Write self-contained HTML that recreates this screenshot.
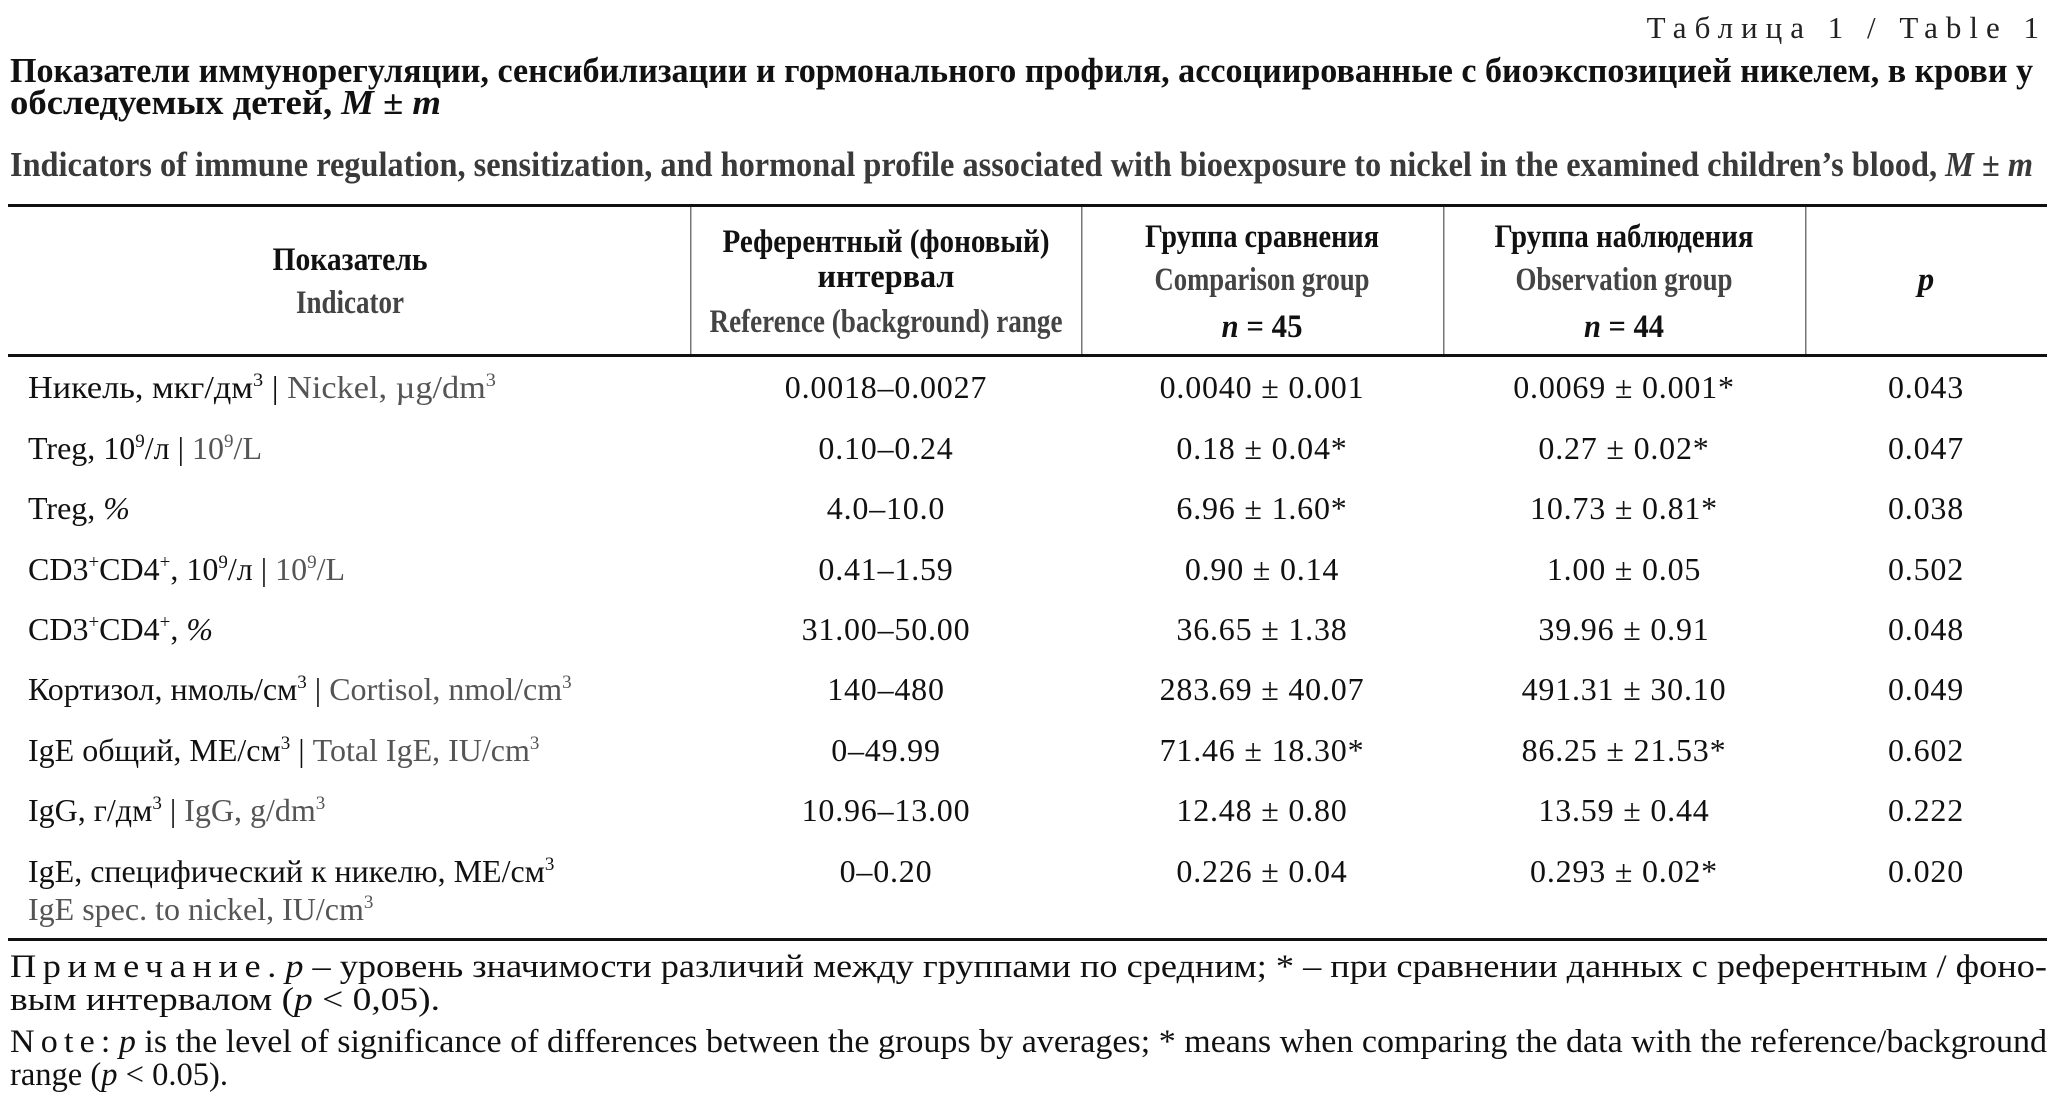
<!DOCTYPE html>
<html><head><meta charset="utf-8"><style>
html,body{margin:0;padding:0;background:#fff;}
svg{display:block;}
text{font-family:"Liberation Serif","Noto Serif CJK SC",serif;}
.b{font-weight:bold;}
.h{font-size:33px;font-weight:bold;text-anchor:middle;fill:#111;}
.hg{font-size:33px;font-weight:bold;text-anchor:middle;fill:#444;}
.d{font-size:32px;text-anchor:middle;fill:#111;letter-spacing:0.8px;}
.l{font-size:32px;fill:#111;}
.n{font-size:33px;fill:#111;}
</style></head><body>
<svg width="2060" height="1111" viewBox="0 0 2060 1111" xmlns="http://www.w3.org/2000/svg">
<text x="2047" y="38" font-size="31" text-anchor="end" letter-spacing="8" fill="#222">Таблица 1 / Table 1</text>
<text x="10" y="82" font-size="35" class="b" fill="#111" textLength="2023" lengthAdjust="spacingAndGlyphs">Показатели иммунорегуляции, сенсибилизации и гормонального профиля, ассоциированные с биоэкспозицией никелем, в крови у</text>
<text x="10" y="114" font-size="35" class="b" fill="#111" textLength="431" lengthAdjust="spacingAndGlyphs">обследуемых детей, <tspan font-style="italic">M</tspan> ± <tspan font-style="italic">m</tspan></text>
<text x="10" y="176" font-size="35" class="b" fill="#3a3a3a" textLength="2023" lengthAdjust="spacingAndGlyphs">Indicators of immune regulation, sensitization, and hormonal profile associated with bioexposure to nickel in the examined children’s blood, <tspan font-style="italic">M</tspan> ± <tspan font-style="italic">m</tspan></text>
<rect x="8" y="204" width="2039" height="3" fill="#111"/>
<rect x="8" y="354" width="2039" height="3" fill="#111"/>
<rect x="8" y="938" width="2039" height="3" fill="#111"/>
<g fill="#777"><rect x="690" y="207" width="1.5" height="147"/><rect x="1081" y="207" width="1.5" height="147"/><rect x="1443" y="207" width="1.5" height="147"/><rect x="1805" y="207" width="1.5" height="147"/></g>
<text class="h" x="350" y="270" textLength="155" lengthAdjust="spacingAndGlyphs">Показатель</text>
<text class="hg" x="350" y="313" textLength="108" lengthAdjust="spacingAndGlyphs">Indicator</text>
<text class="h" x="886" y="252" textLength="327" lengthAdjust="spacingAndGlyphs">Референтный (фоновый)</text>
<text class="h" x="886" y="287" textLength="137" lengthAdjust="spacingAndGlyphs">интервал</text>
<text class="hg" x="886" y="332" textLength="353" lengthAdjust="spacingAndGlyphs">Reference (background) range</text>
<text class="h" x="1262" y="247" textLength="234" lengthAdjust="spacingAndGlyphs">Группа сравнения</text>
<text class="hg" x="1262" y="290" textLength="215" lengthAdjust="spacingAndGlyphs">Comparison group</text>
<text class="h" x="1262" y="337" textLength="81" lengthAdjust="spacingAndGlyphs"><tspan font-style="italic">n</tspan> = 45</text>
<text class="h" x="1624" y="247" textLength="259" lengthAdjust="spacingAndGlyphs">Группа наблюдения</text>
<text class="hg" x="1624" y="290" textLength="217" lengthAdjust="spacingAndGlyphs">Observation group</text>
<text class="h" x="1624" y="337" textLength="80" lengthAdjust="spacingAndGlyphs"><tspan font-style="italic">n</tspan> = 44</text>
<text class="h" x="1926" y="290" font-style="italic">p</text>

<g>
<text class="l" x="28" y="398" textLength="468" lengthAdjust="spacingAndGlyphs">Никель, мкг/дм<tspan font-size="19" dy="-12">3</tspan><tspan dy="12"> | </tspan><tspan fill="#555">Nickel, µg/dm</tspan><tspan fill="#555" font-size="19" dy="-12">3</tspan></text>
<text class="l" x="28" y="459">Treg, 10<tspan font-size="19" dy="-12">9</tspan><tspan dy="12">/л | </tspan><tspan fill="#555">10</tspan><tspan fill="#555" font-size="19" dy="-12">9</tspan><tspan fill="#555" dy="12">/L</tspan></text>
<text class="l" x="28" y="519">Treg, <tspan font-style="italic">%</tspan></text>
<text class="l" x="28" y="580">CD3<tspan font-size="19" dy="-12">+</tspan><tspan dy="12">CD4</tspan><tspan font-size="19" dy="-12">+</tspan><tspan dy="12">, 10</tspan><tspan font-size="19" dy="-12">9</tspan><tspan dy="12">/л | </tspan><tspan fill="#555">10</tspan><tspan fill="#555" font-size="19" dy="-12">9</tspan><tspan fill="#555" dy="12">/L</tspan></text>
<text class="l" x="28" y="640">CD3<tspan font-size="19" dy="-12">+</tspan><tspan dy="12">CD4</tspan><tspan font-size="19" dy="-12">+</tspan><tspan dy="12">, </tspan><tspan font-style="italic">%</tspan></text>
<text class="l" x="28" y="700">Кортизол, нмоль/см<tspan font-size="19" dy="-12">3</tspan><tspan dy="12"> | </tspan><tspan fill="#555">Cortisol, nmol/cm</tspan><tspan fill="#555" font-size="19" dy="-12">3</tspan></text>
<text class="l" x="28" y="761">IgE общий, МЕ/см<tspan font-size="19" dy="-12">3</tspan><tspan dy="12"> | </tspan><tspan fill="#555">Total IgE, IU/cm</tspan><tspan fill="#555" font-size="19" dy="-12">3</tspan></text>
<text class="l" x="28" y="821">IgG, г/дм<tspan font-size="19" dy="-12">3</tspan><tspan dy="12"> | </tspan><tspan fill="#555">IgG, g/dm</tspan><tspan fill="#555" font-size="19" dy="-12">3</tspan></text>
<text class="l" x="28" y="882">IgE, специфический к никелю, МЕ/см<tspan font-size="19" dy="-12">3</tspan></text>
<text x="28" y="920" font-size="32" fill="#555">IgE spec. to nickel, IU/cm<tspan font-size="19" dy="-12">3</tspan></text>
</g>

<g>
<text class="d" x="886" y="398">0.0018–0.0027</text><text class="d" x="1262" y="398">0.0040 ± 0.001</text><text class="d" x="1624" y="398">0.0069 ± 0.001*</text><text class="d" x="1926" y="398">0.043</text>
<text class="d" x="886" y="459">0.10–0.24</text><text class="d" x="1262" y="459">0.18 ± 0.04*</text><text class="d" x="1624" y="459">0.27 ± 0.02*</text><text class="d" x="1926" y="459">0.047</text>
<text class="d" x="886" y="519">4.0–10.0</text><text class="d" x="1262" y="519">6.96 ± 1.60*</text><text class="d" x="1624" y="519">10.73 ± 0.81*</text><text class="d" x="1926" y="519">0.038</text>
<text class="d" x="886" y="580">0.41–1.59</text><text class="d" x="1262" y="580">0.90 ± 0.14</text><text class="d" x="1624" y="580">1.00 ± 0.05</text><text class="d" x="1926" y="580">0.502</text>
<text class="d" x="886" y="640">31.00–50.00</text><text class="d" x="1262" y="640">36.65 ± 1.38</text><text class="d" x="1624" y="640">39.96 ± 0.91</text><text class="d" x="1926" y="640">0.048</text>
<text class="d" x="886" y="700">140–480</text><text class="d" x="1262" y="700">283.69 ± 40.07</text><text class="d" x="1624" y="700">491.31  ± 30.10</text><text class="d" x="1926" y="700">0.049</text>
<text class="d" x="886" y="761">0–49.99</text><text class="d" x="1262" y="761">71.46 ± 18.30*</text><text class="d" x="1624" y="761">86.25 ± 21.53*</text><text class="d" x="1926" y="761">0.602</text>
<text class="d" x="886" y="821">10.96–13.00</text><text class="d" x="1262" y="821">12.48 ± 0.80</text><text class="d" x="1624" y="821">13.59 ± 0.44</text><text class="d" x="1926" y="821">0.222</text>
<text class="d" x="886" y="882">0–0.20</text><text class="d" x="1262" y="882">0.226 ± 0.04</text><text class="d" x="1624" y="882">0.293 ± 0.02*</text><text class="d" x="1926" y="882">0.020</text>
</g>

<text class="n" x="10" y="977" textLength="2037" lengthAdjust="spacingAndGlyphs"><tspan letter-spacing="6">Примечание</tspan>. <tspan font-style="italic">p</tspan> – уровень значимости различий между группами по средним; * – при сравнении данных с референтным / фоно-</text>
<text class="n" x="10" y="1010" textLength="430" lengthAdjust="spacingAndGlyphs">вым интервалом (<tspan font-style="italic">p</tspan> &lt; 0,05).</text>
<text class="n" x="10" y="1052" textLength="2037" lengthAdjust="spacingAndGlyphs"><tspan letter-spacing="6">Note</tspan>: <tspan font-style="italic">p</tspan> is the level of significance of differences between the groups by averages; * means when comparing the data with the reference/background</text>
<text class="n" x="10" y="1085" textLength="218" lengthAdjust="spacingAndGlyphs">range (<tspan font-style="italic">p</tspan> &lt; 0.05).</text>
</svg>
</body></html>
